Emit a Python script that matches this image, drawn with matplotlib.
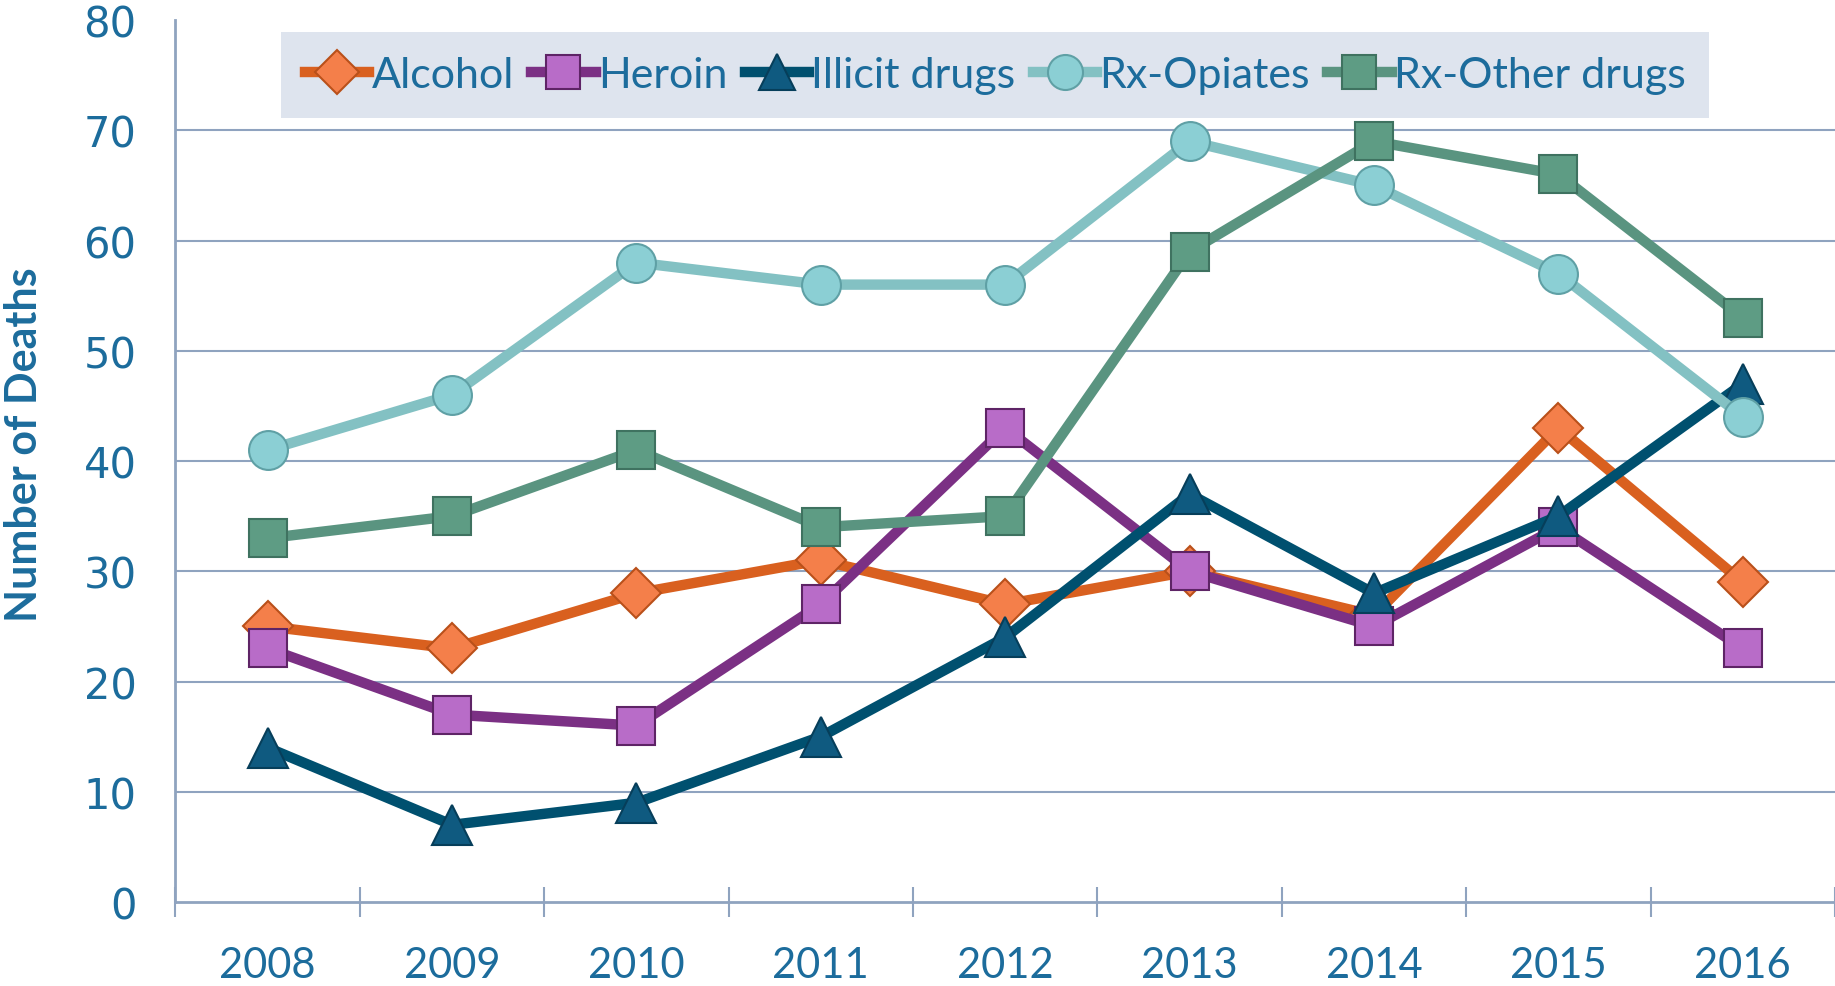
import matplotlib
matplotlib.use("Agg")
import matplotlib.pyplot as plt
import numpy as np

years = ["2008", "2009", "2010", "2011", "2012", "2013", "2014", "2015", "2016"]
alcohol = [25, 23, 28, 31, 27, 30, 26, 43, 29]
heroin = [23, 17, 16, 27, 43, 30, 25, 34, 23]
illicit = [14, 7, 9, 15, 24, 37, 28, 35, 47]
rx_opiates = [41, 46, 58, 56, 56, 69, 65, 57, 44]
rx_other = [33, 35, 41, 34, 35, 59, 69, 66, 53]

blue_txt = "#1C6C9C"
axis_col = "#8FA3BF"

fig = plt.figure(figsize=(18.35, 9.87), dpi=100)
ax = fig.add_axes([0.0956, 0.0851, 0.9044, 0.8936])

x = np.arange(len(years))
series = [
    ("Alcohol", alcohol, "#D9601F", "D", "#F47F4A", "#B9501A", 25),
    ("Heroin", heroin, "#7B3084", "s", "#B86CC8", "#5E2466", 27),
    ("Illicit drugs", illicit, "#00506F", "^", "#0F5A80", "#063E5A", 29),
    ("Rx-Opiates", rx_opiates, "#83C1C3", "o", "#8BCFD4", "#5FA0A5", 28),
    ("Rx-Other drugs", rx_other, "#5A9480", "s", "#5E9C84", "#3F7260", 27),
]
for name, vals, lc, mk, mfc, mec, ms in series:
    ax.plot(x, vals, color=lc, lw=7.5, marker=mk, markersize=ms,
            markerfacecolor=mfc, markeredgecolor=mec, markeredgewidth=1.5,
            label=name, solid_joinstyle="miter")

ax.set_xlim(-0.5, len(years) - 0.5)
ax.set_ylim(0, 80)
ax.set_yticks(range(0, 81, 10))
ax.set_xticks(x)
ax.set_xticklabels(years)
ax.set_xticks(np.arange(-0.5, len(years), 1), minor=True)

ax.yaxis.grid(True, color=axis_col, lw=1.5)
ax.get_ygridlines()[-1].set_visible(False)
ax.get_ygridlines()[0].set_visible(False)
ax.set_axisbelow(True)

for s in ["top", "right"]:
    ax.spines[s].set_visible(False)
for s in ["left", "bottom"]:
    ax.spines[s].set_color(axis_col)
    ax.spines[s].set_linewidth(2)

ax.tick_params(axis="y", length=0, pad=28, labelsize=30, labelcolor=blue_txt)
ax.tick_params(axis="x", which="major", length=0, pad=32, labelcolor=blue_txt)
ax.tick_params(axis="x", which="minor", direction="inout", length=21.6,
               width=1.5, color=axis_col)
for lbl in ax.get_xticklabels():
    lbl.set_fontfamily("Lato")
    lbl.set_fontsize(30)

ax.set_ylabel("Number of Deaths", fontsize=31, fontweight="bold",
              color=blue_txt, family=["Liberation Sans Narrow", "Lato"])
ax.yaxis.set_label_coords(-0.079, 0.52)

leg = ax.legend(loc="upper center", bbox_to_anchor=(0.494, 0.986), ncol=5,
                frameon=True, fancybox=False, framealpha=1,
                facecolor="#DEE4EE", edgecolor="none",
                prop={"family": "Lato", "size": 31},
                handlelength=1.5, handletextpad=0.05, columnspacing=0.4,
                borderpad=0.55, borderaxespad=0, markerscale=0.9)
for t in leg.get_texts():
    t.set_color(blue_txt)

fig.savefig("out.png", dpi=100)
